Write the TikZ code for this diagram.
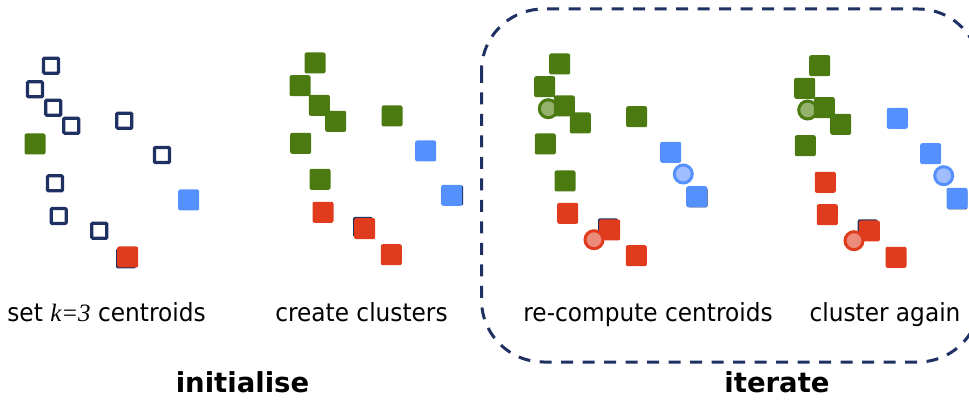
\documentclass[tikz,border=0pt]{standalone}
\usepackage{fontspec}
\setmainfont{DejaVu Sans}[FakeStretch=0.93]
\newfontfamily\headfont{DejaVu Sans}
\newfontfamily\kfont{Liberation Serif}
\usepackage{tikz}
\usetikzlibrary{positioning}
\usepackage{xcolor}
\definecolor{navy}{HTML}{1F3163}
\definecolor{kgreen}{HTML}{4A7A10}
\definecolor{kblue}{HTML}{5590FF}
\definecolor{kred}{HTML}{E03B1C}
\definecolor{lgreen}{HTML}{95B26C}
\definecolor{lblue}{HTML}{A0BDFF}
\definecolor{lred}{HTML}{EC8B7A}
\tikzset{
  datapt/.style   = {rectangle, inner sep=0pt, minimum size=21pt,
                     rounded corners=2pt},
  hollowpt/.style = {rectangle, draw=navy, line width=3.2pt, inner sep=0pt,
                     minimum size=15pt, rounded corners=1pt},
  ghost/.style    = {rectangle, fill=navy, inner sep=0pt, minimum size=20pt,
                     rounded corners=2pt},
  centroid/.style = {circle, line width=3pt, inner sep=0pt, minimum size=18pt},
  caption/.style  = {anchor=base, inner sep=0pt,
                     font=\fontsize{25}{30}\selectfont},
  phase/.style    = {anchor=base, inner sep=0pt,
                     font=\headfont\bfseries\fontsize{27.5}{32}\selectfont},
}

\begin{document}
\begin{tikzpicture}[x=1pt,y=-1pt]
\clip (0,0) rectangle (969,403);

% set k=3 centroids
\node[ghost] (a0) at (126,258.5) {};
\foreach \p [count=\i] in {(51,65.7),(35,89.3),(53.3,107.7),(71.3,125.7),(124.3,120.7),
    (162,155),(55,183.3),(58.7,216),(99.3,230.7)}
  \node[hollowpt] (a\i) at \p {};
\node[datapt,fill=kgreen] (ag) at (35,144) {};
\node[datapt,fill=kblue]  (ab) at (188.7,200) {};
\node[datapt,fill=kred]   (ar) at (127.7,257) {};

% create clusters
\node[ghost] (bx1) at (363,227) {};
\node[ghost] (bx2) at (453.2,195.5) {};
\foreach \p [count=\i] in {(315,63),(300,85.7),(319.3,105.3),(335.7,121.3),(392,116),
    (300.7,143.3),(320,179.3)}
  \node[datapt,fill=kgreen] (bg\i) at \p {};
\foreach \p [count=\i] in {(425.7,151),(451.7,195.3)}
  \node[datapt,fill=kblue] (bb\i) at \p {};
\foreach \p [count=\i] in {(323,212.3),(364.7,228.7),(391.3,254.7)}
  \node[datapt,fill=kred] (br\i) at \p {};

% re-compute centroids
\node[centroid,draw=kgreen,fill=lgreen] (cg) at (548.3,108.7) {};
\node[ghost] (cx1) at (608,228.3) {};
\node[ghost] (cx2) at (697.5,197.5) {};
\foreach \p [count=\i] in {(559.7,64),(544.7,86.7),(564.3,106),(580.3,123),(636.7,116.7),
    (545.3,144),(565,181)}
  \node[datapt,fill=kgreen] (cg\i) at \p {};
\foreach \p [count=\i] in {(670.7,152.3),(696.7,196.7)}
  \node[datapt,fill=kblue] (cb\i) at \p {};
\foreach \p [count=\i] in {(567.7,213.3),(609.7,230),(636.3,255.7)}
  \node[datapt,fill=kred] (cr\i) at \p {};
\node[centroid,draw=kblue,fill=lblue] (cb) at (683.3,174) {};
\node[centroid,draw=kred,fill=lred]   (cr) at (594,239.7) {};

% cluster again
\node[centroid,draw=kgreen,fill=lgreen] (dg) at (807.7,110) {};
\node[ghost] (dx1) at (867.7,229.3) {};
\node[ghost] (dx2) at (957.3,199.5) {};
\foreach \p [count=\i] in {(819.7,65.7),(804.7,88.3),(824.3,107.7),(840.7,124.3),(805.3,145.7)}
  \node[datapt,fill=kgreen] (dg\i) at \p {};
\foreach \p [count=\i] in {(897.3,118.3),(930.7,153.7),(957,198.3)}
  \node[datapt,fill=kblue] (db\i) at \p {};
\foreach \p [count=\i] in {(825.3,182.3),(827.3,214.7),(869.3,231),(896,257.3)}
  \node[datapt,fill=kred] (dr\i) at \p {};
\node[centroid,draw=kblue,fill=lblue] (db) at (943.7,175.7) {};
\node[centroid,draw=kred,fill=lred]   (dr) at (854,240.7) {};

% iterate frame
\draw[navy, line width=3pt, dash pattern=on 12pt off 9.5pt, rounded corners=62pt]
  (481.5,9) rectangle (980,362);

% captions
\node[caption] (t1) at (106.5,321) {set {\kfont\itshape k=3} centroids};
\node[caption] (t2) at (361.5,321) {create clusters};
\node[caption] (t3) at (648,321)   {re-compute centroids};
\node[caption] (t4) at (885,321)   {cluster again};
\node[phase]   (p1) at (242.5,392) {initialise};
\node[phase]   (p2) at (777,392)   {iterate};
\end{tikzpicture}
\end{document}
